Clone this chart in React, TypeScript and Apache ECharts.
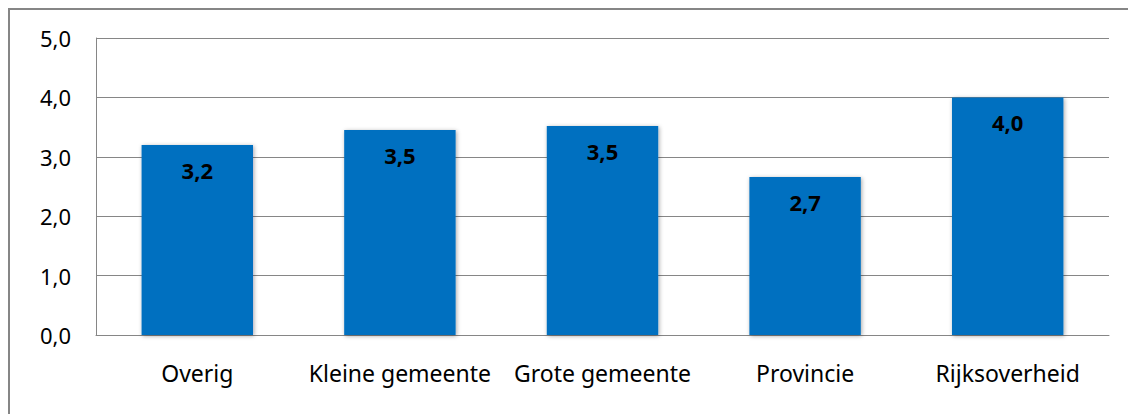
import React, { useEffect, useRef } from "react";
import * as echarts from "echarts";

const categories = ["Overig", "Kleine gemeente", "Grote gemeente", "Provincie", "Rijksoverheid"];
const values = [3.2, 3.45, 3.52, 2.66, 4.0];
const yTicks = [0, 1, 2, 3, 4, 5];

const fmt = (v: number) => v.toFixed(1).replace(".", ",");

export default function App() {
  const ref = useRef<HTMLDivElement>(null);
  useEffect(() => {
    document.body.style.margin = "0";
    document.body.style.overflow = "hidden";
    const chart = echarts.init(ref.current!, undefined, { renderer: "svg" });
    const font = "'Noto Sans', 'Open Sans', sans-serif";
    chart.setOption({
      animation: false,
      grid: { left: 96, right: 19, top: 38, bottom: 79, containLabel: false },
      xAxis: {
        type: "category",
        data: categories,
        axisLine: { show: true, lineStyle: { color: "#868686", width: 1 } },
        axisTick: { show: false },
        axisLabel: { color: "#000", fontFamily: font, fontSize: 23, margin: 26, interval: 0, hideOverlap: false },
      },
      yAxis: {
        type: "value",
        min: yTicks[0],
        max: yTicks[yTicks.length - 1],
        interval: 1,
        axisLine: { show: true, lineStyle: { color: "#868686", width: 1 } },
        axisTick: { show: false },
        splitLine: { show: true, lineStyle: { color: "#868686", width: 1 } },
        axisLabel: {
          color: "#000",
          fontFamily: font,
          fontSize: 22,
          margin: 25,
          padding: [0, 0, 4, 0],
          formatter: (v: number) => fmt(v),
        },
      },
      series: [
        {
          type: "bar",
          data: values,
          barWidth: "55%",
          itemStyle: {
            color: "#0070C0",
            shadowBlur: 4,
            shadowColor: "rgba(0,0,0,0.35)",
            shadowOffsetX: 1,
            shadowOffsetY: 1,
          },
          label: {
            show: true,
            position: "insideTop",
            distance: 14,
            color: "#000",
            fontFamily: font,
            fontWeight: "bold",
            fontSize: 22,
            formatter: (p: any) => fmt(p.value),
          },
        },
      ],
    });
    return () => chart.dispose();
  }, []);
  return (
    <div style={{ position: "relative", width: 1128, height: 414, overflow: "hidden", background: "#fff" }}>
      <div
        style={{
          position: "absolute",
          left: 8,
          top: 8,
          width: 1200,
          height: 500,
          border: "2px solid #868686",
          boxSizing: "border-box",
        }}
      />
      <div ref={ref} style={{ position: "absolute", left: 0, top: 0, width: 1128, height: 414 }} />
    </div>
  );
}
